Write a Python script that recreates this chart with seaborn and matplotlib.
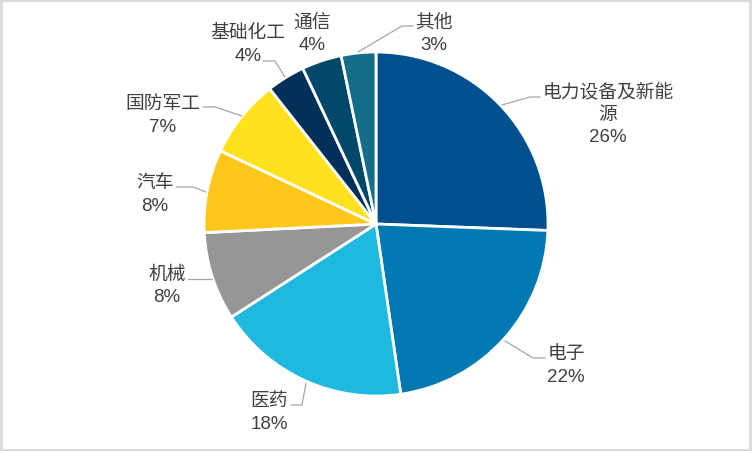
import matplotlib
matplotlib.use("Agg")
import matplotlib.pyplot as plt
from matplotlib.patches import Rectangle
import seaborn as sns

# ---- data ----
categories = ["电力设备及新能源", "电子", "医药", "机械", "汽车", "国防军工", "基础化工", "通信", "其他"]
label_names = ["电力设备及新能\n源", "电子", "医药", "机械", "汽车", "国防军工", "基础化工", "通信", "其他"]
values = [25.6, 22.1, 18.2, 8.3, 7.8, 7.4, 3.6, 3.75, 3.25]
colors = ["#00508F", "#0079B3", "#1FB9DF", "#969696", "#FFC71C", "#FFE11E",
          "#00305A", "#00486A", "#146E88"]

# label layout (pixel positions of text centers and leader-line vertices)
label_px = [(608, 115), (566, 366), (269, 413), (167, 286), (155, 195),
            (163, 116), (248, 45), (312, 34), (434, 34)]
leader_px = [
    [(502, 106), (530, 98), (540, 98)],
    [(505, 342), (533, 359), (545, 359)],
    [(306, 384), (302, 406), (291, 406)],
    [(212, 280), (188, 280)],
    [(206, 193), (193, 188), (176, 188)],
    [(242, 117), (215, 108), (203, 108)],
    [(285, 78), (275, 62), (263, 62)],
    None,
    [(358, 53), (402, 27), (413, 27)],
]

sns.set_theme(style="white")
plt.rcParams["font.family"] = ["Liberation Sans", "Noto Sans CJK SC", "DejaVu Sans"]

W, H = 752, 452
CX, CY, R = 376, 225, 172

fig = plt.figure(figsize=(W / 100, H / 100), dpi=100)
fig.patch.set_facecolor("white")
ax = fig.add_axes([0, 0, 1, 1])


def to_data(p):
    return ((p[0] - CX) / R, (CY - p[1]) / R)


wedges, _ = ax.pie(values, colors=colors, startangle=90, counterclock=False,
                   radius=1.0, center=(0, 0),
                   wedgeprops=dict(edgecolor="white", linewidth=2.0))

ax.set_xlim(-CX / R, (W - CX) / R)
ax.set_ylim(-(H - CY) / R, CY / R)
ax.set_aspect("equal")
ax.axis("off")

total = sum(values)
for name, v, pos, lead in zip(label_names, values, label_px, leader_px):
    txt = f"{name}\n{round(v / total * 100):d}%"
    x, y = to_data(pos)
    ax.text(x, y, txt, ha="center", va="center", fontsize=13.5,
            color="#404040", linespacing=1.4)
    if lead:
        xs = [to_data(p)[0] for p in lead]
        ys = [to_data(p)[1] for p in lead]
        ax.plot(xs, ys, color="#A6A6A6", linewidth=0.9)

# light gray frame around the chart area
fig.patches.append(Rectangle((0.001, 0.003), 0.996, 0.994, transform=fig.transFigure,
                             fill=False, edgecolor="#D9D9D9", linewidth=2.0))

fig.savefig("out.png", dpi=100, facecolor="white")
